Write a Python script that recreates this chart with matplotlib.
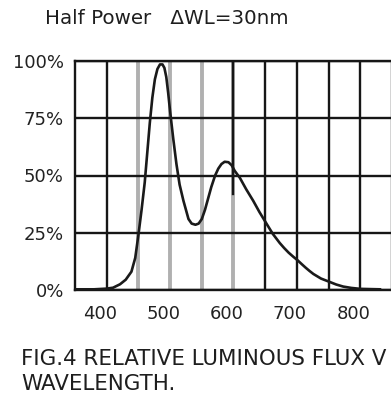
import matplotlib
matplotlib.use("Agg")
import matplotlib.pyplot as plt
import matplotlib.transforms as mtransforms

# spectrum (nm, % relative flux)
wavelength = [350, 380, 400, 410, 421, 430, 439, 445, 450, 455, 460, 464, 468,
              472, 476, 480, 484, 488, 491, 494, 497, 500, 505, 510, 515, 521,
              529, 534, 540, 545, 550, 555, 560, 565, 571, 576, 581, 586, 592,
              597, 602, 610, 620, 631, 641, 652, 662, 673, 680, 687, 694, 701,
              708, 714, 720, 726, 738, 751, 762, 773, 786, 800, 815, 831]
flux = [0.3, 0.3, 0.6, 1.0, 2.5, 4.5, 8, 14, 24, 35, 47, 60, 73,
        84, 92, 96.5, 98.5, 98.5, 97, 93, 86, 78, 66, 55, 46, 39,
        31, 29, 28.5, 29, 31, 35, 40, 45, 50, 53, 55, 56, 55.8,
        54.5, 52, 49, 44, 39, 34, 29, 24.5, 20.5, 18.3, 16.3, 14.6, 13,
        11.2, 9.7, 8.3, 7, 5, 3.6, 2.4, 1.5, 0.9, 0.5, 0.4, 0.3]

x_ticks = [400, 500, 600, 700, 800]
y_ticks = [0, 25, 50, 75, 100]
y_labels = ["0%", "25%", "50%", "75%", "100%"]
black_lines = [400, 650, 700, 750, 800, 850]
grey_lines = [450, 500, 550, 600]

W, H = 391, 396
fig = plt.figure(figsize=(W / 100, H / 100), dpi=100)
fig.patch.set_facecolor("white")

left, bottom, top = 75, 290, 61
px_per_nm = 31.7 / 50
x_min, x_max = 350, 900
ax = fig.add_axes([left / W, (H - bottom) / H,
                   (x_max - x_min) * px_per_nm / W, (bottom - top) / H])
ax.set_xlim(x_min, x_max)
ax.set_ylim(0, 100)

ink = "#161616"
for g in grey_lines:
    ax.axvline(g, color="#b0b0b0", lw=2.8, zorder=1)
# the 600 line is black in its upper part
ax.axvline(600, ymin=0.42, ymax=1, color=ink, lw=1.7, zorder=1.5)
for b in black_lines:
    ax.axvline(b, color=ink, lw=1.7, zorder=1)
for yv in y_ticks:
    ax.axhline(yv, color=ink, lw=1.7, zorder=1)

ax.plot(wavelength, flux, color="#1a1a1a", lw=1.9, zorder=3)

for s in ["left", "top", "bottom"]:
    ax.spines[s].set_linewidth(1.7)
    ax.spines[s].set_color(ink)
ax.spines["right"].set_visible(False)

ax.set_xticks(x_ticks)
ax.set_xticklabels([str(t) for t in x_ticks], fontsize=13, color="#222222")
ax.set_yticks(y_ticks)
ax.set_yticklabels(y_labels, fontsize=13, color="#222222")
ax.tick_params(axis="x", length=0, pad=11)
ax.tick_params(axis="y", length=0, pad=8)
shift = mtransforms.ScaledTranslation(-7 / 100, 0, fig.dpi_scale_trans)
for lab in ax.get_xticklabels():
    lab.set_transform(lab.get_transform() + shift)

fig.text(45 / W, 1 - 18 / H, "Half Power   \u0394WL=30nm", fontsize=14.3,
         ha="left", va="center", color="#1e1e1e")
fig.text(21 / W, 1 - 359 / H, "FIG.4 RELATIVE LUMINOUS FLUX V", fontsize=15.4,
         ha="left", va="center", color="#1e1e1e")
fig.text(21 / W, 1 - 384 / H, "WAVELENGTH.", fontsize=15.4,
         ha="left", va="center", color="#1e1e1e")

fig.savefig("out.png", dpi=100)
